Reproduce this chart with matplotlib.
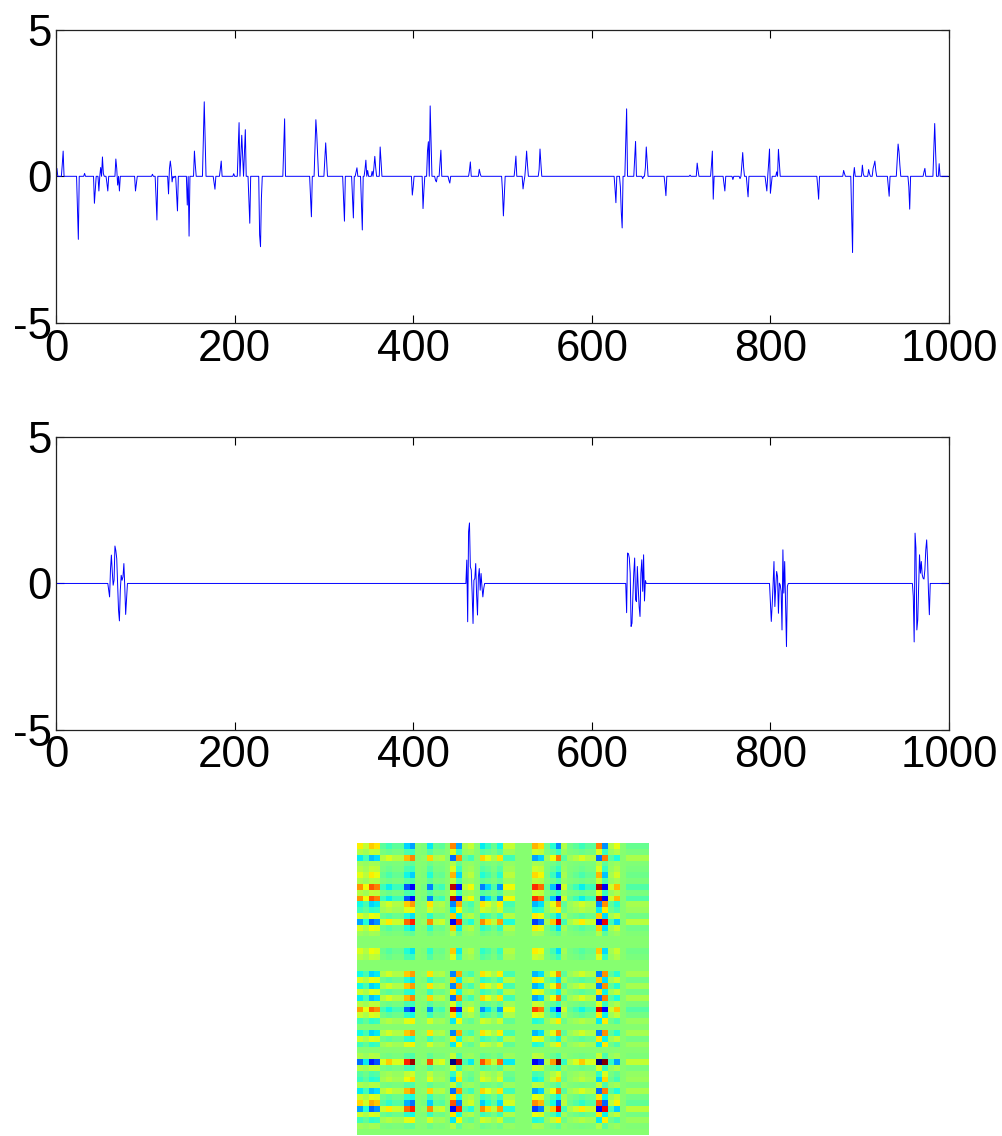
import numpy as np
import matplotlib
matplotlib.use('Agg')
import matplotlib.pyplot as plt

plt.rcParams['font.family'] = ['Liberation Sans', 'DejaVu Sans']
plt.rcParams['axes.unicode_minus'] = False

n_samples = 1000

# top panel: sparse spikes (sample index, value)
top_idx = [1, 7, 8, 24, 25, 32, 43, 44, 48, 50, 52, 53, 57, 58, 67, 68, 69, 71, 89, 90,
           108, 112, 113, 126, 127, 128, 129, 130, 132, 135, 136, 147, 149, 155, 156,
           165, 166, 167, 177, 178, 184, 185, 199, 204, 205, 207, 208, 209, 211, 212,
           216, 217, 228, 229, 230,
           255, 256, 285, 286, 290, 291, 292, 293, 301, 302, 303, 322, 323, 332, 333,
           336, 337, 342, 343, 346, 347, 349, 354, 356, 357, 358, 363, 364, 399, 400,
           411, 412, 416, 417, 419, 420, 425, 426, 430, 431, 440, 441, 463, 464, 474,
           475, 500, 501, 502, 514, 515, 523, 524, 526, 527, 528, 541, 542, 543,
           626, 627, 632, 633, 634, 638, 639, 648, 649, 657, 660, 661, 662, 682, 683,
           710, 718, 719, 734, 735, 736, 748, 749, 758, 766, 768, 769, 770, 774, 775,
           795, 796, 798, 799, 800, 801, 807, 809, 810, 853, 854, 882, 883, 891, 892,
           894, 903, 904, 910, 911, 915, 916, 917, 918, 932, 933, 942, 943, 944, 945,
           955, 956, 972, 973, 983, 984, 985, 989]
top_val = [0.27, 0.4, 0.86, -1.1, -2.15, 0.1, -0.92, -0.47, -0.5, 0.3, 0.66, 0.1, -0.23, -0.5, 0.59, 0.27, -0.3, -0.5, -0.5, -0.24,
           0.07, -0.7, -1.49, -0.6, 0.25, 0.52, 0.25, -0.19, -0.05, -0.58, -1.18, -0.98, -2.04, 0.86, 0.38,
           1.23, 2.54, 1.23, -0.23, -0.44, 0.24, 0.52, 0.09, 0.9, 1.83, 0.66, 1.4, 0.66, 0.78, 1.59,
           -0.8, -1.6, -2.0, -2.4, -0.75,
           0.97, 1.96, -0.7, -1.38, 0.94, 1.93, 1.43, 0.72, 0.55, 1.14, 0.55, -0.75, -1.53, -0.7, -1.42,
           0.15, 0.29, -0.92, -1.83, 0.23, 0.55, 0.2, 0.17, 0.3, 0.68, 0.3, 1.0, 0.49, -0.64, -0.36,
           -1.1, -0.47, 0.87, 1.18, 2.4, 1.18, -0.14, -0.19, 0.43, 0.89, -0.14, -0.23, 0.2, 0.49, 0.24,
           0.09, -0.52, -1.35, -0.7, 0.3, 0.69, -0.43, -0.19, 0.38, 0.86, 0.38, 0.23, 0.93, 0.43,
           -0.42, -0.9, -0.36, -1.21, -1.76, 1.11, 2.3, 0.57, 1.19, -0.08, 0.3, 1.0, 0.49, -0.3, -0.66,
           0.04, 0.45, 0.2, 0.38, 0.86, -0.78, -0.24, -0.5, -0.11, -0.08, 0.38, 0.81, 0.3, -0.36, -0.7,
           -0.24, -0.5, 0.43, 0.93, -0.58, -0.3, 0.15, 0.92, 0.43, -0.36, -0.78, 0.2, 0.09, -1.27, -2.6,
           0.3, 0.38, 0.09, 0.23, 0.09, 0.27, 0.38, 0.52, 0.2, -0.36, -0.68, 0.52, 1.1, 0.84, 0.38,
           -0.36, -1.12, 0.15, 0.27, 0.86, 1.8, 0.84, 0.43]

# middle panel: five short bursts (start index, values)
burst_start = [59, 460, 639, 800, 960]
burst_vals = [
    [-0.23, -0.46, 0.48, 0.97, 0.4, -0.06, 0.11, 1.28, 1.12, 0.85, 0.0, -0.91, -1.28, -0.23,
     0.28, 0.11, 0.23, 0.68, -0.11, -1.06, -0.51],
    [0.8, -1.31, 1.77, 2.07, 0.57, 0.46, -0.34, -1.37, 0.11, 0.17, 0.68, -0.4, -1.08, 0.23,
     0.51, -0.23, 0.34, -0.11, -0.46, -0.17],
    [-1.0, 1.04, 1.02, 0.87, 0.35, -1.47, -1.36, -0.44, 0.35, 0.87, -0.56, -0.62, 0.58, -0.16,
     -0.79, -1.13, 0.35, 0.81, -0.27, 0.98, -0.6, 0.1],
    [-0.67, -1.3, -0.73, -0.05, 0.75, -0.79, -0.1, 0.41, 0.24, -1.02, 0.01, -0.05, -0.27, -1.59,
     1.15, -0.33, 0.75, -0.67, -2.16, -0.1],
    [-0.44, -2.0, 1.72, 1.2, -1.59, -1.25, -0.1, 0.98, 0.35, 0.75, 0.3, 0.18, 0.15, 0.47,
     1.15, 1.49, 0.81, -0.27, -1.07],
]

# bottom panel: matrix read as row / column weights
row_w = [-0.5, -0.2, 0.55, -0.1, -0.2, -0.4, -0.15, -0.85, -0.2, -0.85,
         0.5, 0.3, -0.35, 0.8, -0.35, -0.1, 0.0, 0.0, -0.35, -0.2,
         0.0, 0.0, 0.5, -0.35, 0.5, -0.3, 0.55, -0.2, -0.8, -0.3,
         0.3, 0.0, 0.5, -0.3, 0.3, 0.0, -0.15, 1.0, -0.2, 0.2,
         0.35, -0.15, 0.55, -0.3, -0.6, 0.8, -0.3, 0.3, -0.1, 0.0]
col_w = [-0.55, -0.3, -0.7, -0.6, 0.2, 0.35, 0.2, 0.2, 0.7, 0.9,
         0.0, 0.05, 0.6, 0.15, 0.2, 0.0, -1.0, 0.85, -0.15, -0.3,
         0.0, 0.6, 0.4, 0.15, 0.55, -0.3, -0.3, 0.0, 0.0, 0.0,
         -0.8, -0.65, 0.1, 0.45, 0.95, -0.2, 0.1, 0.2, 0.35, 0.2,
         0.2, -1.0, 0.95, -0.2, -0.45, 0.0, 0.15, 0.15, 0.15, 0.15]

top_sig = np.zeros(n_samples)
top_sig[top_idx] = top_val
mid_sig = np.zeros(n_samples)
for s, v in zip(burst_start, burst_vals):
    mid_sig[s:s + len(v)] = v
mat = np.outer(row_w, col_w)

fig = plt.figure(figsize=(10.02, 11.36), dpi=100)
ax1 = fig.add_axes([0.0559, 0.7157, 0.8912, 0.2582])
ax2 = fig.add_axes([0.0559, 0.3577, 0.8912, 0.2574])
ax3 = fig.add_axes([0.3566, 0.0006, 0.2914, 0.2570])

for ax, sig in [(ax1, top_sig), (ax2, mid_sig)]:
    ax.plot(np.arange(n_samples), sig, color='#0000ff', lw=0.7)
    ax.set_xlim(0, 1000)
    ax.set_ylim(-5, 5)
    ax.set_xticks([0, 200, 400, 600, 800, 1000])
    ax.set_yticks([-5, 0, 5])
    ax.tick_params(direction='in', length=6, width=0.8, top=True, right=True,
                   labelsize=31.5, colors='black')
    ax.tick_params(axis='x', pad=4)
    ax.tick_params(axis='y', pad=3)
    for sp in ax.spines.values():
        sp.set_linewidth(0.9)
        sp.set_color('#222222')

ax3.imshow(mat, cmap='jet', interpolation='nearest', aspect='auto')
ax3.axis('off')

fig.savefig('out.png', dpi=100)
